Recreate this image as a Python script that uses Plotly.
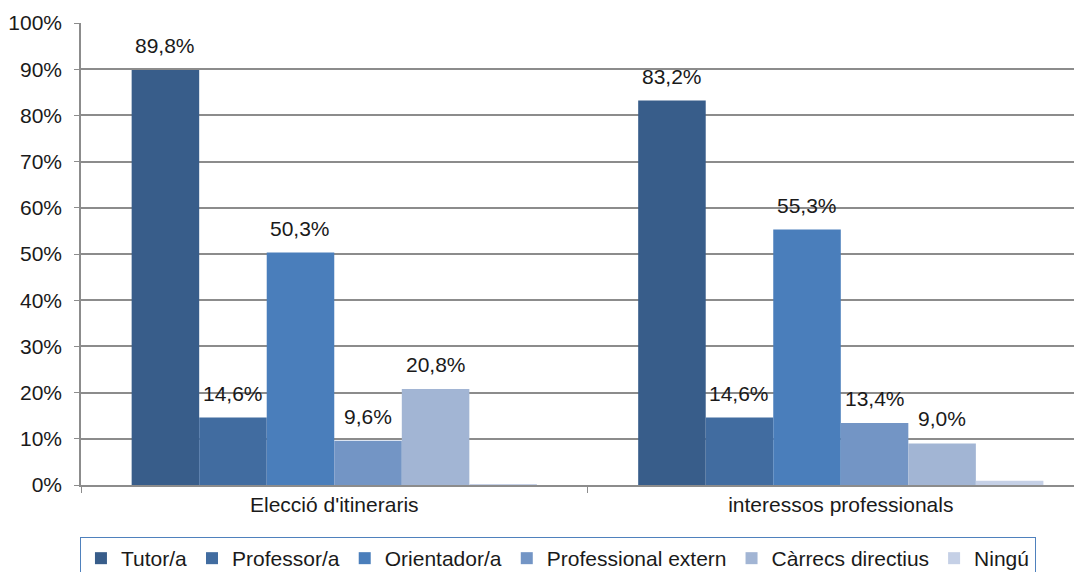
import plotly.graph_objects as go

categories = ["Elecció d'itineraris", "interessos professionals"]
series_names = ["Tutor/a", "Professor/a", "Orientador/a", "Professional extern", "Càrrecs directius", "Ningú"]
tutor = [89.8, 83.2]
professor = [14.6, 14.6]
orientador = [50.3, 55.3]
professional_extern = [9.6, 13.4]
carrecs_directius = [20.8, 9.0]
ningu = [0.2, 0.9]
show_labels = [True, True, True, True, True, False]
y_ticks = [0, 10, 20, 30, 40, 50, 60, 70, 80, 90, 100]

colors = ["#385D8A", "#416CA0", "#4A7EBB", "#7395C5", "#A2B5D4", "#C5D0E6"]
series_values = [tutor, professor, orientador, professional_extern, carrecs_directius, ningu]

FONT = "Liberation Sans, Arial, sans-serif"
FS = 21
BARGAP = 0.2

fig = go.Figure()
for name, vals, col in zip(series_names, series_values, colors):
    fig.add_trace(go.Bar(
        name=name,
        x=categories,
        y=vals,
        marker=dict(color=col, line=dict(width=0)),
    ))

# data labels, positioned in data coordinates (category index + group offset)
n = len(series_names)
slot = (1 - BARGAP) / n
annotations = []
for i, (vals, lab) in enumerate(zip(series_values, show_labels)):
    if not lab:
        continue
    for g, v in enumerate(vals):
        xpos = g - (1 - BARGAP) / 2 + slot * (i + 0.5)
        annotations.append(dict(
            x=xpos, y=v, xref="x", yref="y",
            text=("%.1f%%" % v).replace(".", ","),
            showarrow=False, yanchor="bottom", xanchor="center",
            yshift=11,
            font=dict(family=FONT, size=FS, color="#1a1a1a"),
        ))

fig.update_layout(
    width=1082, height=572,
    margin=dict(l=73, r=0, t=15, b=95, autoexpand=False),
    paper_bgcolor="white", plot_bgcolor="white",
    barmode="group", bargap=BARGAP, bargroupgap=0,
    font=dict(family=FONT, size=FS, color="#1a1a1a"),
    annotations=annotations,
    xaxis=dict(
        range=[-0.5, 1.492],
        showline=True, linecolor="#8C8C8C", linewidth=1.5,
        ticks="outside", tickson="boundaries", ticklen=6, tickcolor="#8C8C8C",
        showgrid=False,
        tickfont=dict(family=FONT, size=FS, color="#1a1a1a"),
    ),
    yaxis=dict(
        range=[0, 100],
        tickvals=y_ticks,
        ticktext=["%d%%" % v for v in y_ticks],
        showline=True, linecolor="#8C8C8C", linewidth=1.5,
        ticks="outside", ticklen=5, tickcolor="#8C8C8C",
        ticklabelstandoff=8,
        showgrid=True, gridcolor="#8C8C8C", gridwidth=1.5,
        zeroline=False,
        tickfont=dict(family=FONT, size=FS, color="#1a1a1a"),
    ),
    legend=dict(
        orientation="h",
        x=0.4727, xanchor="center",
        y=-0.1126, yanchor="top",
        bordercolor="#4F81BD", borderwidth=1,
        font=dict(family=FONT, size=FS, color="#1a1a1a"),
        traceorder="normal",
    ),
)

fig.write_html("out.html")
